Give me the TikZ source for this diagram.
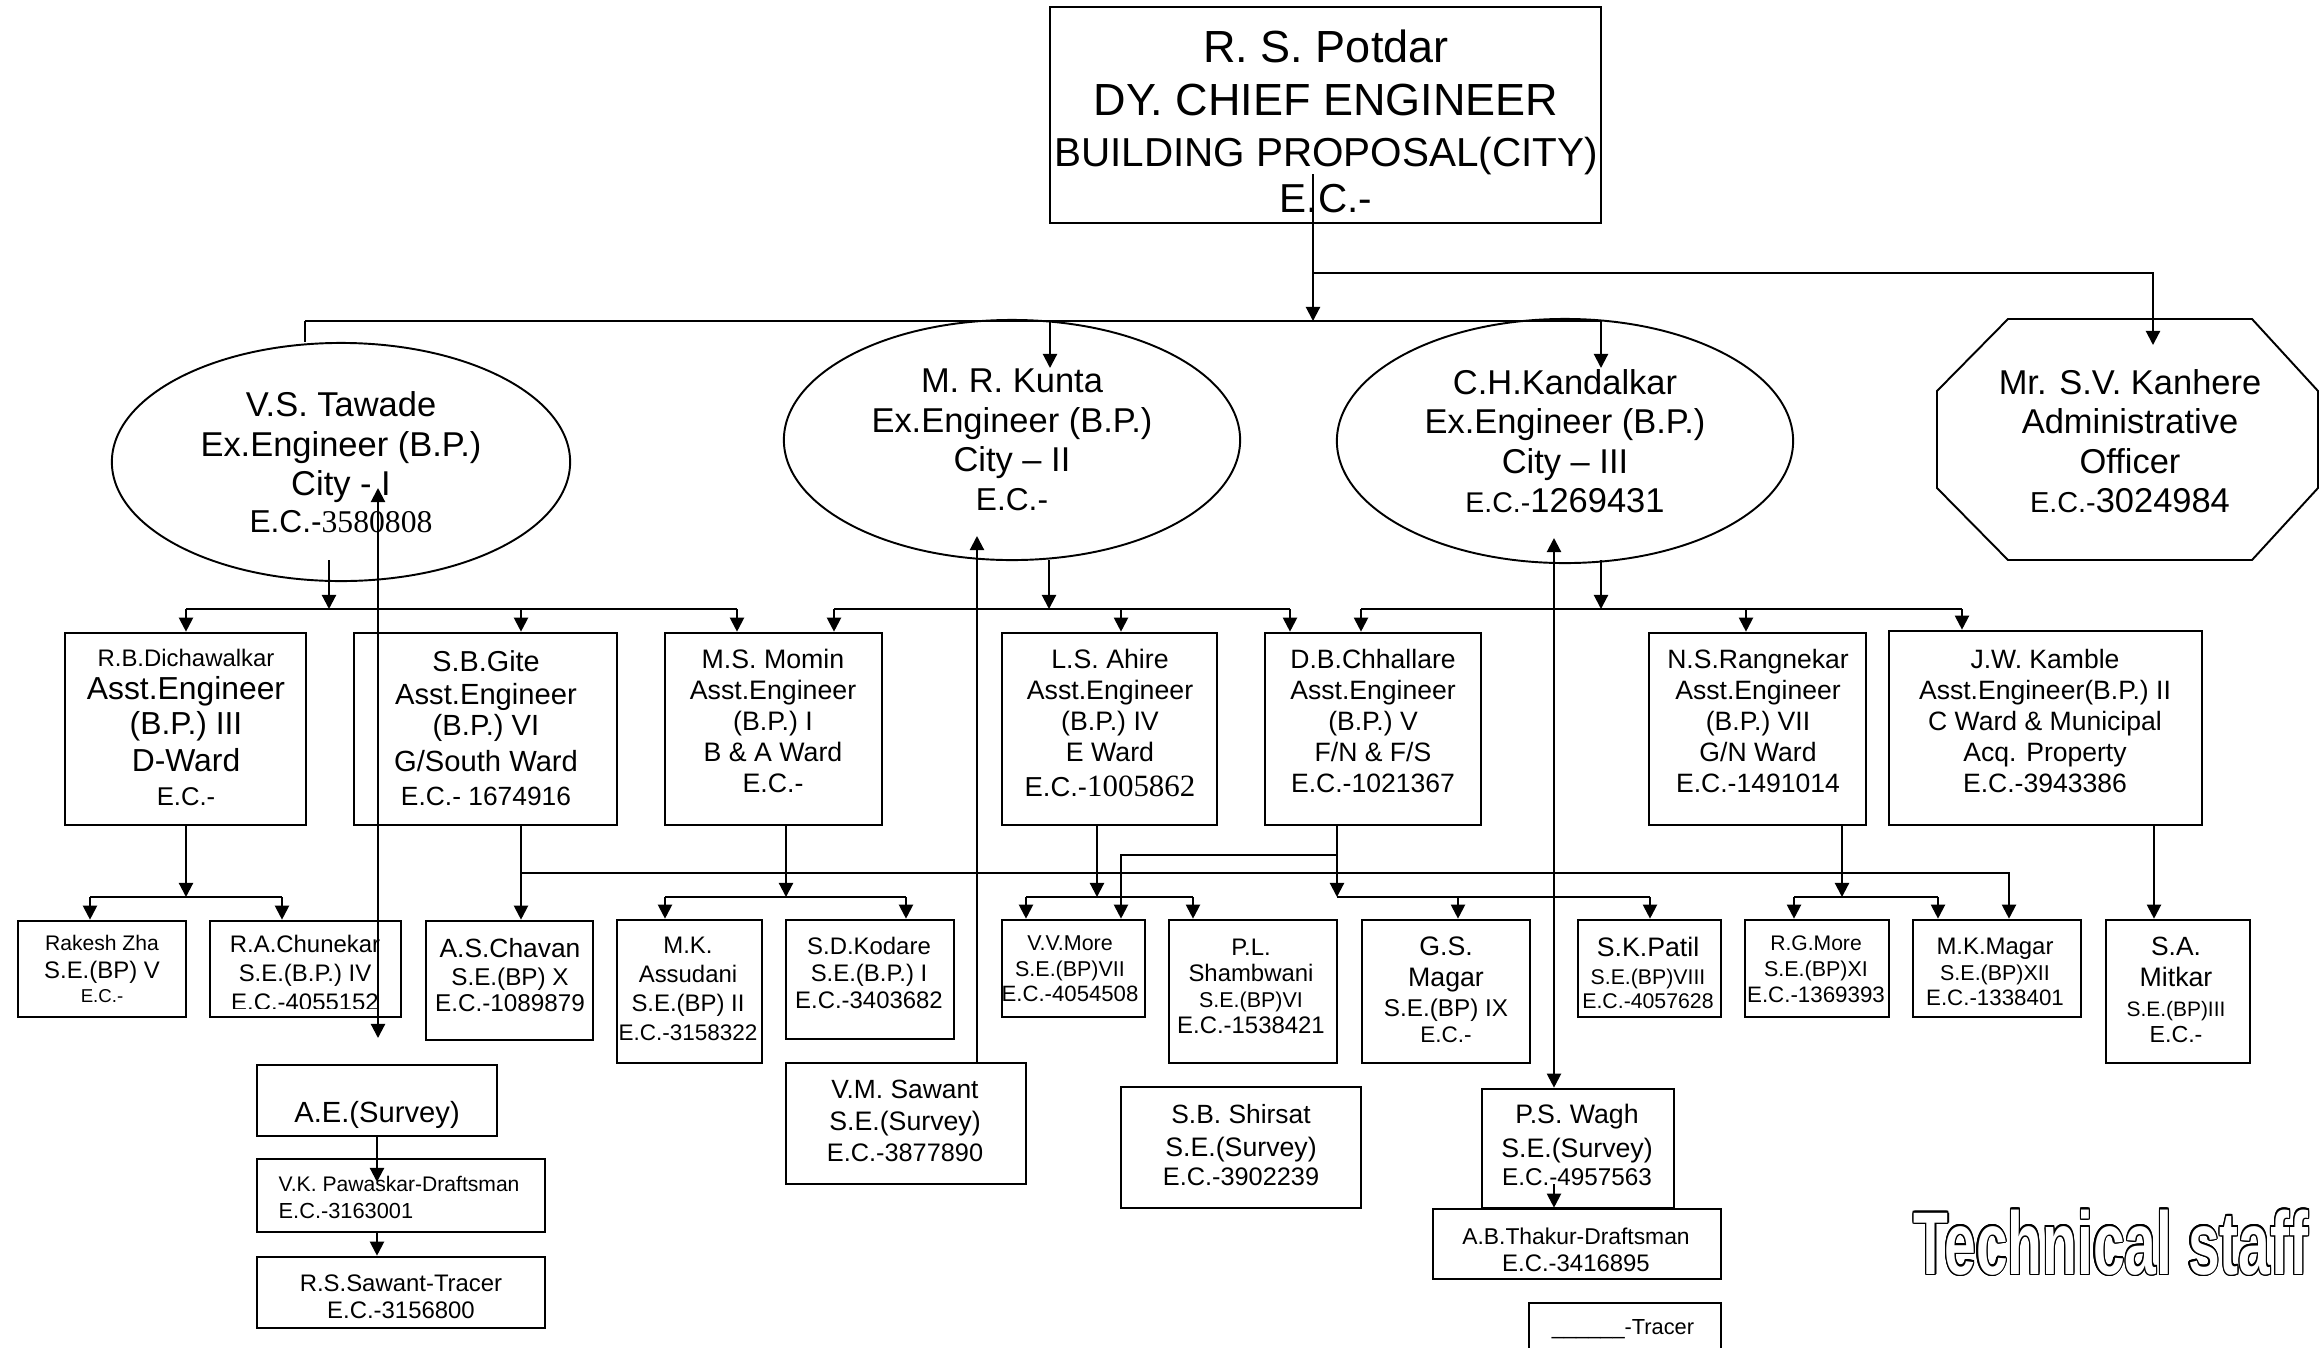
\documentclass[tikz,border=0pt]{standalone}
\usepackage{fontspec}
\setmainfont{Liberation Sans}
\newfontfamily\serf{Liberation Serif}
\usepackage{contour}
\contourlength{0.55pt}
\usetikzlibrary{arrows.meta,shapes.geometric}
\newcommand\fsz[2]{\fontsize{#1}{#2}\selectfont}
\newcommand\bx[5]{\node[box,minimum width={(#4-#2)*0.01cm},minimum height={(#5-#3)*0.01cm}] (#1) at ({(#2+#4)/2},{(#3+#5)/2}) {};}
\begin{document}
\begin{tikzpicture}[x=0.01cm,y=-0.01cm,
  box/.style={draw,line width=0.75pt,rectangle,inner sep=0pt},
  txt/.style={align=center,inner sep=0pt},
  ell/.style={draw,ellipse,line width=0.55pt,inner sep=0pt,align=center},
  ln/.style={line width=0.6pt},
  arr/.style={ln,-{Triangle[length=4pt,width=4pt]}},
  arrb/.style={ln,{Triangle[length=4pt,width=4pt]}-{Triangle[length=4pt,width=4pt]}}]
\fill[white] (0,0) rectangle (2320,1348);
\useasboundingbox (0,0) rectangle (2320,1348);

% ---------- boxes ----------
\bx{dce}{1050}{7}{1601}{223}
\bx{dich}{65}{633}{306}{825}
\bx{gite}{354}{633}{617}{825}
\bx{momin}{665}{633}{882}{825}
\bx{ahire}{1002}{633}{1217}{825}
\bx{chha}{1265}{633}{1481}{825}
\bx{rang}{1649}{633}{1866}{825}
\bx{kamb}{1889}{631}{2202}{825}
\bx{rakesh}{18}{921}{186}{1017}
\bx{chun}{210}{921}{401}{1017}
\bx{chav}{426}{921}{593}{1040}
\bx{assu}{617}{920}{762}{1063}
\bx{koda}{786}{920}{954}{1039}
\bx{vvm}{1002}{920}{1145}{1017}
\bx{shamb}{1169}{920}{1337}{1063}
\bx{gsm}{1362}{920}{1530}{1063}
\bx{skp}{1578}{920}{1721}{1017}
\bx{rgm}{1745}{920}{1889}{1017}
\bx{mkm}{1913}{920}{2081}{1017}
\bx{mitk}{2106}{920}{2250}{1063}
\bx{aes}{257}{1065}{497}{1136}
\bx{pawa}{257}{1159}{545}{1232}
\bx{rss}{257}{1257}{545}{1328}
\bx{vms}{786}{1063}{1026}{1184}
\bx{shir}{1121}{1087}{1361}{1208}
\bx{wagh}{1482}{1089}{1674}{1208}
\bx{thak}{1433}{1209}{1721}{1279}
\bx{trac}{1529}{1303}{1721}{1365}

% ---------- top ----------
\node[txt,font=\fsz{12.8}{14.5}] (tdce) at (1326,121) {R. S. Potdar\\[0.6pt]DY. CHIEF ENGINEER\\{\fsz{11.5}{13}BUILDING PROPOSAL(CITY)}\\[-1.4pt]{\fsz{11.5}{13}E.C.-}};

% ---------- ellipses ----------
\node[ell,minimum width=4.58cm,minimum height=2.38cm,font=\fsz{9.8}{11.3}] (taw) at (341,462) {V.S. Tawade\\Ex.Engineer (B.P.)\\City - I\\[-1pt]{\fsz{9}{10}E.C.-\serf 3580808}};
\node[ell,minimum width=4.56cm,minimum height=2.40cm,font=\fsz{9.8}{11.2}] (kun) at (1012,440) {M. R. Kunta\\Ex.Engineer (B.P.)\\City – II\\{\fsz{9}{10}E.C.-}};
\node[ell,minimum width=4.56cm,minimum height=2.44cm,font=\fsz{9.8}{11.2}] (kan) at (1565,441) {C.H.Kandalkar\\Ex.Engineer (B.P.)\\City – III\\{\fsz{8.1}{9}E.C.-}1269431};

% ---------- octagon ----------
\draw[line width=0.55pt] (2008,319) -- (2252,319) -- (2318,391) -- (2318,488) -- (2252,560) -- (2008,560) -- (1937,488) -- (1937,391) -- cycle;
\node[txt,font=\fsz{9.8}{11.2}] (adm) at (2130,441) {Mr. S.V. Kanhere\\Administrative\\Officer\\{\fsz{8.2}{9}E.C.-}3024984};

% ---------- AE texts ----------
\node[txt,font=\fsz{9.05}{10}] (tdich) at (186,727) {{\fsz{6.8}{8}R.B.Dichawalkar}\\[-0.5pt]Asst.Engineer\\(B.P.) III\\[0.5pt]D-Ward\\[-0.5pt]{\fsz{7.3}{8}E.C.-}};
\node[txt,font=\fsz{8.3}{9.5}] (tgite) at (486,728) {{\fsz{8.2}{9}S.B.Gite}\\Asst.Engineer\\[-0.8pt](B.P.) VI\\[0.8pt]G/South Ward\\{\fsz{7.5}{8}E.C.- 1674916}};
\node[txt,font=\fsz{7.6}{8.8}] (tmom) at (773,721) {M.S. Momin\\Asst.Engineer\\(B.P.) I\\B \& A Ward\\E.C.-};
\node[txt,font=\fsz{7.6}{8.8}] (tahi) at (1110,723) {L.S. Ahire\\Asst.Engineer\\(B.P.) IV\\E Ward\\[1.1pt]{\fsz{7.8}{9}E.C.-\serf\fsz{8.8}{9}1005862}};
\node[txt,font=\fsz{7.55}{8.8}] (tchha) at (1373,721) {D.B.Chhallare\\Asst.Engineer\\(B.P.) V\\F/N \& F/S\\E.C.-1021367};
\node[txt,font=\fsz{7.55}{8.8}] (trang) at (1758,721) {N.S.Rangnekar\\Asst.Engineer\\(B.P.) VII\\G/N Ward\\E.C.-1491014};
\node[txt,font=\fsz{7.55}{8.8}] (tkamb) at (2045,721) {J.W. Kamble\\Asst.Engineer(B.P.) II\\C Ward \& Municipal\\Acq. Property\\E.C.-3943386};

% ---------- SE texts ----------
\node[txt,font=\fsz{6}{7.9}] (trak) at (102,969) {Rakesh Zha\\{\fsz{6.8}{8}S.E.(BP) V}\\[-1.1pt]{\fsz{5.3}{6}E.C.-}};
\begin{scope}
\clip (210,921) rectangle (401,1008);
\node[txt,font=\fsz{6.8}{8.2}] (tchun) at (305,973) {R.A.Chunekar\\S.E.(B.P.) IV\\E.C.-4055152};
\end{scope}
\node[txt,font=\fsz{6.9}{8.1}] (tchav) at (510,975) {{\fsz{7.5}{8}A.S.Chavan}\\S.E.(BP) X\\[-0.6pt]E.C.-1089879};
\node[txt,font=\fsz{6.8}{8.2}] (tassu) at (688,989) {M.K.\\Assudani\\S.E.(BP) II\\{\fsz{6.4}{7}E.C.-3158322}};
\node[txt,font=\fsz{6.8}{7.7}] (tkoda) at (869,973) {S.D.Kodare\\S.E.(B.P.) I\\E.C.-3403682};
\node[txt,font=\fsz{6.1}{7.3}] (tvvm) at (1070,969) {V.V.More\\S.E.(BP)VII\\{\fsz{6.3}{7}E.C.-4054508}};
\node[txt,font=\fsz{6.8}{7.4}] (tshamb) at (1251,986) {P.L.\\Shambwani\\{\fsz{6.1}{7}S.E.(BP)VI}\\E.C.-1538421};
\node[txt,font=\fsz{7.6}{8.7}] (tgsm) at (1446,990) {G.S.\\Magar\\{\fsz{6.9}{8}S.E.(BP) IX}\\[-1.4pt]{\fsz{6.4}{7}E.C.-}};
\node[txt,font=\fsz{6.05}{7.4}] (tskp) at (1648,973) {{\fsz{7.6}{8}S.K.Patil}\\[0.6pt]S.E.(BP)VIII\\[-0.6pt]E.C.-4057628};
\node[txt,font=\fsz{6.1}{7.4}] (trgm) at (1816,969) {{\fsz{6}{7}R.G.More}\\S.E.(BP)XI\\{\fsz{6.35}{7}E.C.-1369393}};
\node[txt,font=\fsz{6.1}{7.2}] (tmkm) at (1995,972) {{\fsz{6.8}{7}M.K.Magar}\\S.E.(BP)XII\\{\fsz{6.35}{7}E.C.-1338401}};
\node[txt,font=\fsz{7.6}{8.4}] (tmitk) at (2176,990) {{\fsz{7.5}{8}S.A.}\\[0.4pt]Mitkar\\{\fsz{5.95}{7}S.E.(BP)III}\\[-1pt]{\fsz{6.6}{7}E.C.-}};

% ---------- survey texts ----------
\node[txt,font=\fsz{8.3}{9}] (taes) at (377,1115) {A.E.(Survey)};
\node[txt,align=left,anchor=west,font=\fsz{6}{7.7}] (tpaw) at (278,1197) {V.K. Pawaskar-Draftsman\\{\fsz{6.2}{7}E.C.-3163001}};
\node[txt,font=\fsz{6.8}{7.7}] (trss) at (401,1297) {R.S.Sawant-Tracer\\E.C.-3156800};
\node[txt,font=\fsz{7.5}{8.9}] (tvms) at (905,1121) {V.M. Sawant\\{\fsz{7.6}{8}S.E.(Survey)}\\{\fsz{7.2}{8}E.C.-3877890}};
\node[txt,font=\fsz{7.5}{8.7}] (tshir) at (1241,1145) {S.B. Shirsat\\[0.7pt]{\fsz{7.6}{8}S.E.(Survey)}\\[-0.7pt]{\fsz{7.2}{8}E.C.-3902239}};
\node[txt,font=\fsz{7.6}{8.7}] (twagh) at (1577,1145) {P.S. Wagh\\[0.7pt]S.E.(Survey)\\[-0.7pt]{\fsz{6.9}{8}E.C.-4957563}};
\node[txt,font=\fsz{6.5}{7.7}] (tthak) at (1576,1250) {A.B.Thakur-Draftsman\\{\fsz{6.8}{7}E.C.-3416895}};
\node[txt,font=\fsz{6.2}{7}] (ttrac) at (1623,1329) {\_\_\_\_\_\_-Tracer};

% ---------- Technical staff ----------
\node[inner sep=0pt,anchor=base] (tstaff) at (2111,1274) {\scalebox{0.64}[1]{\fsz{25.3}{26}\bfseries\color{white}\contour{black}{Technical staff}}};

% ---------- connectors level 1 ----------
\coordinate (c0) at (1313,174);
\coordinate (c1) at (1313,321);
\coordinate (b1L) at (305,321);
\coordinate (b1R) at (1601,321);
\draw[arr] (c0) -- (c1);
\draw[ln] (b1L) -- (b1R);
\draw[ln] (b1L) -- (305,0 |- taw.north);
\draw[arr] (1050,321) -- (1050,368);
\draw[arr] (b1R) -- (1601,368);
\draw[arr] (1313,273) -| (2153,345);

% ---------- level 2 ----------
\draw[arr] (329,560) -- (329,609);
\draw[ln] (186,609) -- (737,609);
\draw[arr] (186,609) -- (186,0 |- dich.north);
\draw[arr] (521,609) -- (521,0 |- gite.north);
\draw[arr] (737,609) -- (737,0 |- momin.north);
\draw[arr] (1049,560) -- (1049,609);
\draw[ln] (834,609) -- (1290,609);
\draw[arr] (834,609) -- (834,0 |- momin.north);
\draw[arr] (1121,609) -- (1121,0 |- ahire.north);
\draw[arr] (1290,609) -- (1290,0 |- chha.north);
\draw[arr] (1601,560) -- (1601,609);
\draw[ln] (1361,609) -- (1962,609);
\draw[arr] (1361,609) -- (1361,0 |- chha.north);
\draw[arr] (1746,609) -- (1746,0 |- rang.north);
\draw[arr] (1962,609) -- (1962,0 |- kamb.north);

% ---------- level 3 ----------
\draw[arr] (186,0 |- dich.south) -- (186,897);
\draw[ln] (90,897) -- (282,897);
\draw[arr] (90,897) -- (90,0 |- rakesh.north);
\draw[arr] (282,897) -- (282,0 |- chun.north);
\draw[arr] (521,0 |- gite.south) -- (521,0 |- chav.north);
\draw[arr] (521,873) -| (2009,0 |- mkm.north);
\draw[arr] (786,0 |- momin.south) -- (786,897);
\draw[ln] (665,897) -- (906,897);
\draw[arr] (665,897) -- (665,0 |- assu.north);
\draw[arr] (906,897) -- (906,0 |- koda.north);
\draw[arr] (1097,0 |- ahire.south) -- (1097,897);
\draw[ln] (1026,897) -- (1193,897);
\draw[arr] (1026,897) -- (1026,0 |- vvm.north);
\draw[arr] (1193,897) -- (1193,0 |- shamb.north);
\draw[arr] (1337,0 |- chha.south) -- (1337,897);
\draw[arr] (1337,855) -| (1121,0 |- vvm.north);
\draw[ln] (1337,897) -- (1650,897);
\draw[arr] (1458,897) -- (1458,0 |- gsm.north);
\draw[arr] (1650,897) -- (1650,0 |- skp.north);
\draw[arr] (1842,0 |- rang.south) -- (1842,897);
\draw[ln] (1794,897) -- (1938,897);
\draw[arr] (1794,897) -- (1794,0 |- rgm.north);
\draw[arr] (1938,897) -- (1938,0 |- mkm.north);
\draw[arr] (2154,0 |- kamb.south) -- (2154,0 |- mitk.north);

% ---------- survey ----------
\draw[arrb] (378,1038) -- (378,488);
\draw[arr] (977,0 |- vms.north) -- (977,536);
\draw[arrb] (1554,0 |- wagh.north) -- (1554,538);
\draw[arr] (377,0 |- aes.south) -- (377,1182);
\draw[arr] (377,0 |- pawa.south) -- (377,0 |- rss.north);
\draw[arr] (1554,1184) -- (1554,0 |- thak.north);
\end{tikzpicture}
\end{document}
